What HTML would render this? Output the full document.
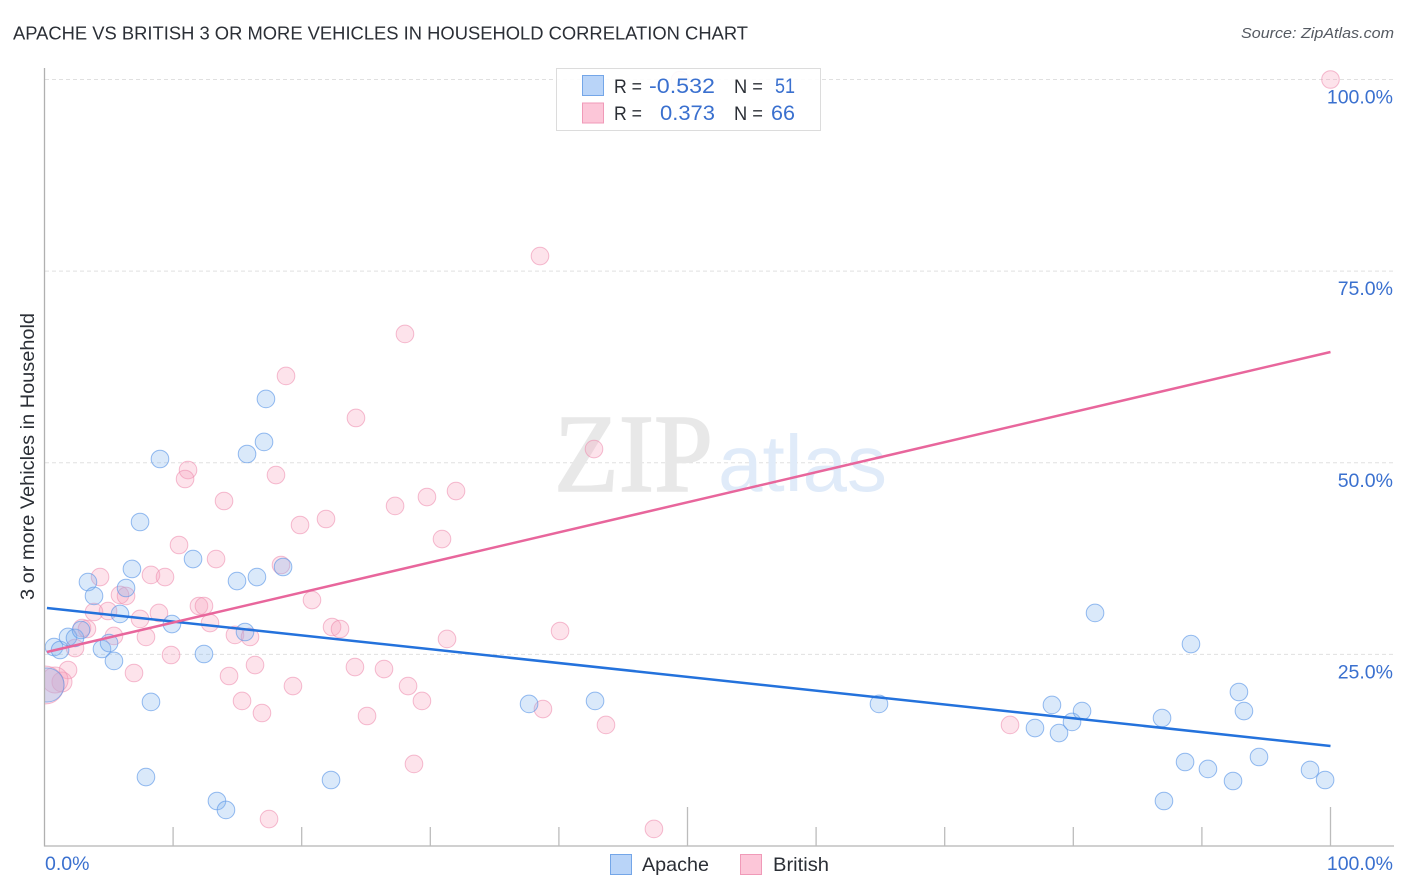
<!DOCTYPE html>
<html>
<head>
<meta charset="utf-8">
<title>Apache vs British chart</title>
<style>
html,body{margin:0;padding:0;background:#fff;}
svg{display:block;font-family:"Liberation Sans",sans-serif;}
</style>
</head>
<body>
<svg id="chart" xmlns="http://www.w3.org/2000/svg" width="1406" height="892" viewBox="0 0 1406 892">
  <rect x="0" y="0" width="1406" height="892" fill="#ffffff"/>
  <defs>
    <clipPath id="plot-clip"><rect x="45" y="60" width="1361" height="786"/></clipPath>
  </defs>
  <text x="13" y="39.5" font-size="18.5" fill="#2b2f36" textLength="735" lengthAdjust="spacingAndGlyphs">APACHE VS BRITISH 3 OR MORE VEHICLES IN HOUSEHOLD CORRELATION CHART</text>
  <text x="1394" y="38" font-size="15" font-style="italic" fill="#555a62" text-anchor="end" textLength="153" lengthAdjust="spacingAndGlyphs">Source: ZipAtlas.com</text>
  <text transform="translate(34 456.5) rotate(-90)" font-size="19" fill="#2b2f36" text-anchor="middle" textLength="287" lengthAdjust="spacingAndGlyphs">3 or more Vehicles in Household</text>
  <g id="grid"></g>
  <text x="554" y="491" font-family="'Liberation Serif',serif" font-size="111" fill="#e8e8e8" stroke="#e8e8e8" stroke-width="1.6" textLength="159" lengthAdjust="spacingAndGlyphs">ZIP</text>
  <text x="718" y="491" font-size="80" fill="#e0ebf9" textLength="169" lengthAdjust="spacingAndGlyphs">atlas</text>
  <g id="points" clip-path="url(#plot-clip)"></g>
  <g id="trends"></g>
  <g id="axes"></g>
  <g>
    <rect x="556.5" y="68.5" width="264" height="62" fill="#ffffff" fill-opacity="0.9" stroke="#dcdcdc" stroke-width="1"/>
    <rect x="582.5" y="75.5" width="21" height="20" fill="#b9d4f8" stroke="#74a6e8" stroke-width="1"/>
    <rect x="582.5" y="103" width="21" height="20" fill="#fcc6d8" stroke="#f09ab8" stroke-width="1"/>
    <text x="614" y="93" font-size="19" fill="#2b2f36" textLength="28" lengthAdjust="spacingAndGlyphs">R =</text>
    <text x="649" y="93" font-size="21" fill="#3a70cf" textLength="66" lengthAdjust="spacingAndGlyphs">-0.532</text>
    <text x="734" y="93" font-size="19" fill="#2b2f36" textLength="29" lengthAdjust="spacingAndGlyphs">N =</text>
    <text x="775" y="93" font-size="21" fill="#3a70cf" textLength="20" lengthAdjust="spacingAndGlyphs">51</text>
    <text x="614" y="120" font-size="19" fill="#2b2f36" textLength="28" lengthAdjust="spacingAndGlyphs">R =</text>
    <text x="660" y="120" font-size="21" fill="#3a70cf" textLength="55" lengthAdjust="spacingAndGlyphs">0.373</text>
    <text x="734" y="120" font-size="19" fill="#2b2f36" textLength="29" lengthAdjust="spacingAndGlyphs">N =</text>
    <text x="771" y="120" font-size="21" fill="#3a70cf" textLength="24" lengthAdjust="spacingAndGlyphs">66</text>
  </g>
  <g>
    <rect x="610.5" y="854.5" width="21" height="20" fill="#b9d4f8" stroke="#74a6e8" stroke-width="1"/>
    <text x="642" y="871" font-size="19.5" fill="#2b2f36" textLength="67" lengthAdjust="spacingAndGlyphs">Apache</text>
    <rect x="740.5" y="854.5" width="21" height="20" fill="#fcc6d8" stroke="#f09ab8" stroke-width="1"/>
    <text x="773" y="871" font-size="19.5" fill="#2b2f36" textLength="56" lengthAdjust="spacingAndGlyphs">British</text>
  </g>
</svg>
<script>
const yTickValues = [25, 50, 75, 100];
const yTickLabels = ["25.0%", "50.0%", "75.0%", "100.0%"];
const xTickValues = [10, 20, 30, 40, 50, 60, 70, 80, 90, 100];
const xEndLabels = ["0.0%", "100.0%"];

const apacheX = [0.74,1.21,1.83,2.37,2.84,3.38,3.85,4.47,5.02,5.40,5.87,6.34,6.80,7.43,7.89,8.28,8.98,9.91,11.55,12.40,13.41,14.11,14.97,15.59,15.75,16.52,17.07,17.22,18.55,22.28,37.68,42.81,64.89,77.02,78.34,78.89,79.90,80.68,81.69,86.90,87.05,88.69,89.15,90.47,92.42,92.88,93.27,94.44,98.41,99.58,0.20];
const apacheY = [25.96,25.57,27.27,27.14,28.18,34.44,32.62,25.70,26.48,24.14,30.27,33.66,36.14,42.27,9.00,18.79,50.49,28.96,37.44,25.05,5.87,4.70,34.57,27.92,51.14,35.09,52.71,58.32,36.40,8.61,18.53,18.92,18.53,15.39,18.40,14.74,16.18,17.61,30.40,16.70,5.87,10.96,26.35,10.05,8.48,20.09,17.61,11.61,9.92,8.61,21.00];
const apacheBigPoints = [50];

const britishX = [100,49.42,38.53,28.03,18.78,24.22,42.73,11.16,10.93,18.00,13.96,19.87,21.89,27.26,29.74,32.00,30.91,10.46,13.34,18.39,4.32,8.28,9.37,5.87,6.34,20.80,8.90,4.94,3.85,7.43,12.01,12.40,12.87,2.92,3.30,5.40,7.89,14.81,15.98,22.36,22.98,31.30,40.09,2.37,9.84,16.37,24.14,26.40,1.83,6.96,14.35,19.32,28.27,29.35,15.36,16.91,25.08,38.76,43.66,75.08,28.73,17.46,47.39,1.36,0.82,0.04];
const britishY = [100,99.93,76.97,66.80,61.32,55.84,51.79,49.05,47.88,48.40,45.01,41.88,42.66,44.36,45.53,46.31,40.05,39.27,37.44,36.66,35.09,35.36,35.09,32.75,32.62,32.09,30.40,30.66,30.53,29.62,31.31,31.31,29.09,28.44,28.31,27.40,27.27,27.53,27.27,28.57,28.31,27.01,28.05,25.83,24.92,23.61,23.35,23.09,22.96,22.57,22.18,20.87,20.87,18.92,18.92,17.35,16.96,17.87,15.79,15.79,10.70,3.52,2.22,21.40,21.66,21.00];
const britishBigPoints = [63, 64, 65];

const apacheTrendX = [0.19, 100];
const apacheTrendY = [31.05, 13.05];
const britishTrendX = [0.19, 100];
const britishTrendY = [25.31, 64.45];

const NS = "http://www.w3.org/2000/svg";
function xScale(v) { return 44.5 + v * 12.86; }
function yScale(v) { return 846 - v * 7.665; }
function make(tag, attrs, parent) {
  const el = document.createElementNS(NS, tag);
  for (const k in attrs) el.setAttribute(k, attrs[k]);
  parent.appendChild(el);
  return el;
}

const grid = document.getElementById("grid");
const axes = document.getElementById("axes");
const pts = document.getElementById("points");
const trends = document.getElementById("trends");

yTickValues.forEach(function (v, i) {
  const line = make("line", {x1: 45, x2: 1394, y1: yScale(v), y2: yScale(v), stroke: "#e0e0e0", "stroke-width": 1, "stroke-dasharray": "4 3"}, grid);
  
  
  const label = make("text", {x: 1393, y: yScale(v) + 24, "font-size": 19.5, fill: "#3a70cf", "text-anchor": "end"}, axes);
  label.textContent = yTickLabels[i];
  
  
});

const yAxis = make("line", {x1: 44.5, x2: 44.5, y1: 68, y2: 846.5, stroke: "#b0b0b0", "stroke-width": 1.3}, axes);


const xAxis = make("line", {x1: 44, x2: 1394, y1: 846, y2: 846, stroke: "#b4b4b4", "stroke-width": 1.3}, axes);



xTickValues.forEach(function (v) {
  const tall = v % 50 === 0;
  const tick = make("line", {x1: xScale(v), x2: xScale(v), y1: tall ? 807 : 827, y2: 846, stroke: "#bcbcbc", "stroke-width": 1.3}, axes);
  
  
});

const x0Label = make("text", {x: 45, y: 870, "font-size": 19.5, fill: "#3a70cf"}, axes);
x0Label.textContent = xEndLabels[0];


const x100Label = make("text", {x: 1393, y: 870, "font-size": 19.5, fill: "#3a70cf", "text-anchor": "end"}, axes);
x100Label.textContent = xEndLabels[1];



britishX.forEach(function (v, i) {
  const big = britishBigPoints.indexOf(i);
  const c = make("circle", {cx: xScale(v), cy: yScale(britishY[i]), r: big === 0 ? 10 : big === 1 ? 13 : big === 2 ? 19 : 8.8, fill: "#f7a3be", "fill-opacity": 0.3, stroke: "#ef8fb0", "stroke-opacity": 0.6, "stroke-width": 1}, pts);
  
  
});

apacheX.forEach(function (v, i) {
  const big = apacheBigPoints.indexOf(i) >= 0;
  const c = make("circle", {cx: xScale(v), cy: yScale(apacheY[i]), r: big ? 17 : 8.8, fill: "#85b5f0", "fill-opacity": 0.3, stroke: "#5e98e8", "stroke-opacity": 0.65, "stroke-width": 1}, pts);
  
  
});

const apacheTrend = make("line", {x1: xScale(apacheTrendX[0]), y1: yScale(apacheTrendY[0]), x2: xScale(apacheTrendX[1]), y2: yScale(apacheTrendY[1]), stroke: "#2472dc", "stroke-width": 2.5}, trends);


const britishTrend = make("line", {x1: xScale(britishTrendX[0]), y1: yScale(britishTrendY[0]), x2: xScale(britishTrendX[1]), y2: yScale(britishTrendY[1]), stroke: "#e8669c", "stroke-width": 2.5}, trends);


</script>
</body>
</html>
